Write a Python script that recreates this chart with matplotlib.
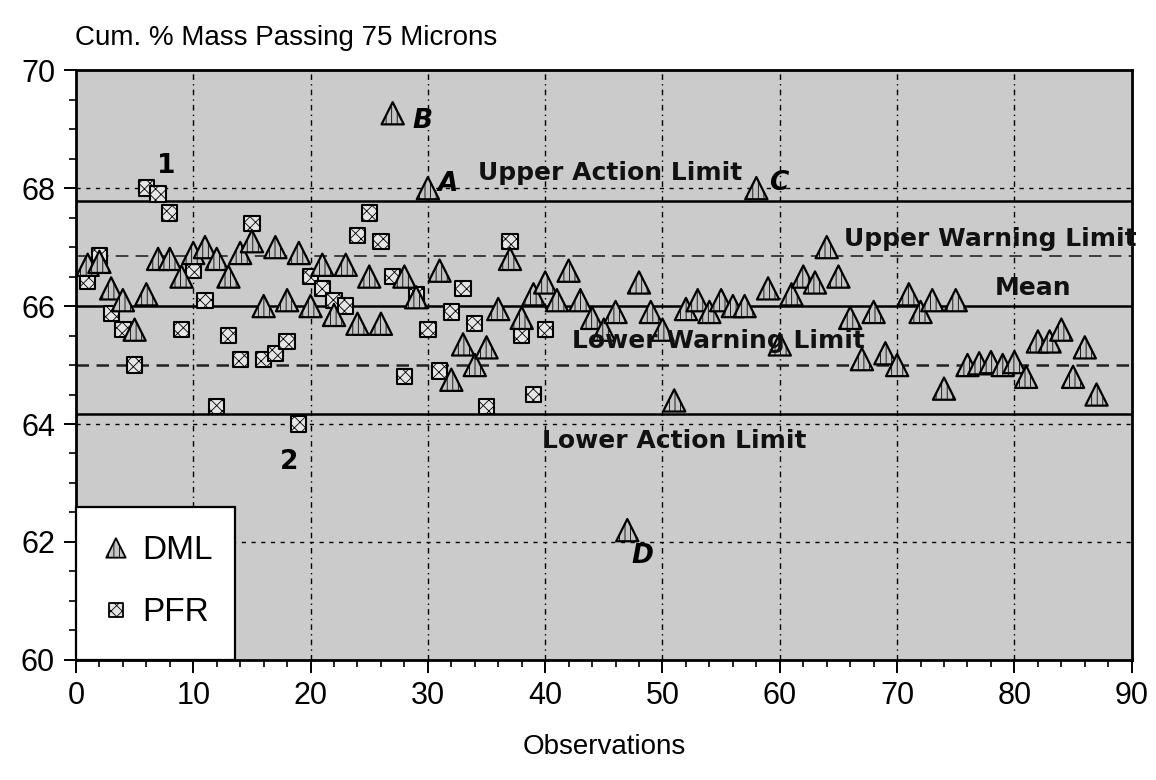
import matplotlib
matplotlib.use("Agg")
import matplotlib.pyplot as plt
from matplotlib.ticker import MultipleLocator
from matplotlib.patches import Rectangle

# ---- data ----
dml_x = list(range(1, 88))
dml_y = [66.70, 66.75, 66.30, 66.10, 65.60, 66.20, 66.80, 66.80, 66.50, 66.90,
         67.00, 66.80, 66.50, 66.90, 67.10, 66.00, 67.00, 66.10, 66.90, 66.00,
         66.70, 65.85, 66.70, 65.70, 66.50, 65.70, 69.27, 66.50, 66.15, 68.00,
         66.60, 64.75, 65.35, 65.00, 65.30, 65.95, 66.80, 65.80, 66.20, 66.40,
         66.10, 66.60, 66.10, 65.80, 65.60, 65.90, 62.20, 66.40, 65.90, 65.60,
         64.40, 65.95, 66.10, 65.90, 66.10, 66.00, 66.00, 68.00, 66.30, 65.35,
         66.20, 66.50, 66.40, 67.00, 66.50, 65.80, 65.10, 65.90, 65.20, 65.00,
         66.20, 65.90, 66.10, 64.60, 66.10, 65.00, 65.03, 65.05, 65.00, 65.05,
         64.80, 65.40, 65.40, 65.60, 64.80, 65.30, 64.50]

pfr_x = [1, 2, 3, 4, 5, 6, 7, 8, 9, 10, 11, 12, 13, 14, 15, 16, 17, 18, 19, 20,
         21, 22, 23, 24, 25, 26, 27, 28, 29, 30, 31, 32, 33, 34, 35, 37, 38, 39, 40]
pfr_y = [66.42, 66.85, 65.88, 65.60, 65.00, 68.00, 67.90, 67.58, 65.60, 66.60,
         66.10, 64.30, 65.50, 65.10, 67.40, 65.10, 65.20, 65.40, 64.00, 66.50,
         66.30, 66.10, 66.00, 67.20, 67.58, 67.10, 66.50, 64.80, 66.20, 65.60,
         64.90, 65.90, 66.30, 65.70, 64.30, 67.10, 65.50, 64.50, 65.60]

upper_action = 67.78
upper_warning = 66.85
mean_val = 66.0
lower_warning = 65.0
lower_action = 64.17

limit_labels = ["Upper Action Limit", "Upper Warning Limit", "Mean",
                "Lower Warning Limit", "Lower Action Limit"]
limit_label_pos = [(34.3, 68.25), (65.5, 67.14), (78.3, 66.3),
                   (42.3, 65.4), (39.7, 63.71)]

point_tags = ["1", "2", "A", "B", "C", "D"]
point_tag_pos = [(7.7, 68.37), (18.2, 63.35), (31.7, 68.07), (29.5, 69.14),
                 (59.9, 68.08), (48.3, 61.76)]

series_names = ["DML", "PFR"]

plt.rcParams['font.family'] = ['Liberation Sans', 'DejaVu Sans']
plt.rcParams['hatch.linewidth'] = 0.6

fig = plt.figure(figsize=(11.56, 7.8), dpi=100)
ax = fig.add_axes([0.0657, 0.154, 0.9133, 0.756])
ax.set_facecolor('#cbcbcb')
ax.set_xlim(0, 90)
ax.set_ylim(60, 70)

# grid
for gx in range(10, 90, 10):
    ax.axvline(gx, color='black', lw=1.0, ls=(0, (4, 3, 1, 3)), zorder=1)
for gy in [62, 64, 68]:
    ax.axhline(gy, color='black', lw=1.0, ls=(0, (3, 4)), zorder=1)

# control lines
ax.axhline(upper_action, color='black', lw=1.8, zorder=2)
ax.axhline(lower_action, color='black', lw=1.8, zorder=2)
ax.axhline(mean_val, color='black', lw=1.8, zorder=2)
ax.axhline(upper_warning, color='#333333', lw=1.3, ls=(0, (7, 4)), zorder=2)
ax.axhline(lower_warning, color='#222222', lw=1.8, ls=(0, (5, 3)), zorder=2)

# text labels
for t, (tx, ty) in zip(limit_labels, limit_label_pos):
    ax.text(tx, ty, t, fontsize=18, fontweight='bold', ha='left', va='center',
            color='#111111', family='DejaVu Sans', zorder=6)
for t, (tx, ty) in zip(point_tags, point_tag_pos):
    style = 'normal' if t in ('1', '2') else 'italic'
    ax.text(tx, ty, t, fontsize=19, fontweight='bold', fontstyle=style,
            ha='center', va='center', color='black', family='DejaVu Sans',
            zorder=6)

# markers
ax.scatter(pfr_x, pfr_y, marker='s', s=11**2, facecolor='#e6e6e6',
           edgecolor='black', linewidth=1.5, hatch='xxx', zorder=4)
ax.scatter(dml_x, dml_y, marker='^', s=16**2, facecolor='#c4c4c4',
           edgecolor='black', linewidth=1.6, hatch='|||', zorder=5)

# ticks
ax.xaxis.set_major_locator(MultipleLocator(10))
ax.xaxis.set_minor_locator(MultipleLocator(2))
ax.yaxis.set_major_locator(MultipleLocator(2))
ax.yaxis.set_minor_locator(MultipleLocator(0.5))
ax.tick_params(which='major', direction='out', length=9, width=1.4,
               labelsize=22, pad=6)
ax.tick_params(which='minor', direction='out', length=5, width=1.2)
for sp in ax.spines.values():
    sp.set_linewidth(2)

ax.set_xlabel("Observations", fontsize=20, labelpad=17)
fig.text(0.065, 0.951, "Cum. % Mass Passing 75 Microns", fontsize=20,
         ha='left', va='center')

# legend (manual box in axes coordinates)
lw_ax = 159 / 1056
lh_ax = 153 / 590
ax.add_patch(Rectangle((0, 0), lw_ax, lh_ax, transform=ax.transAxes,
                       facecolor='white', edgecolor='black', lw=1.6,
                       zorder=7, clip_on=False))
leg_marker_pos = [(40 / 1056, 112 / 590), (40 / 1056, 50 / 590)]
leg_markers = ['^', 's']
leg_sizes = [14**2, 10**2]
leg_faces = ['#c4c4c4', '#e6e6e6']
leg_hatch = ['|||', 'xxx']
for name, (mx, my), mk, ms, fc, hc in zip(series_names, leg_marker_pos,
                                          leg_markers, leg_sizes, leg_faces,
                                          leg_hatch):
    ax.scatter([mx], [my], marker=mk, s=ms, facecolor=fc, edgecolor='black',
               linewidth=1.3, hatch=hc, transform=ax.transAxes, zorder=8,
               clip_on=False)
    ax.text(mx + 26 / 1056, my - 3 / 590, name, fontsize=24,
            ha='left', va='center', transform=ax.transAxes, zorder=8)

fig.savefig("out.png", dpi=100)
